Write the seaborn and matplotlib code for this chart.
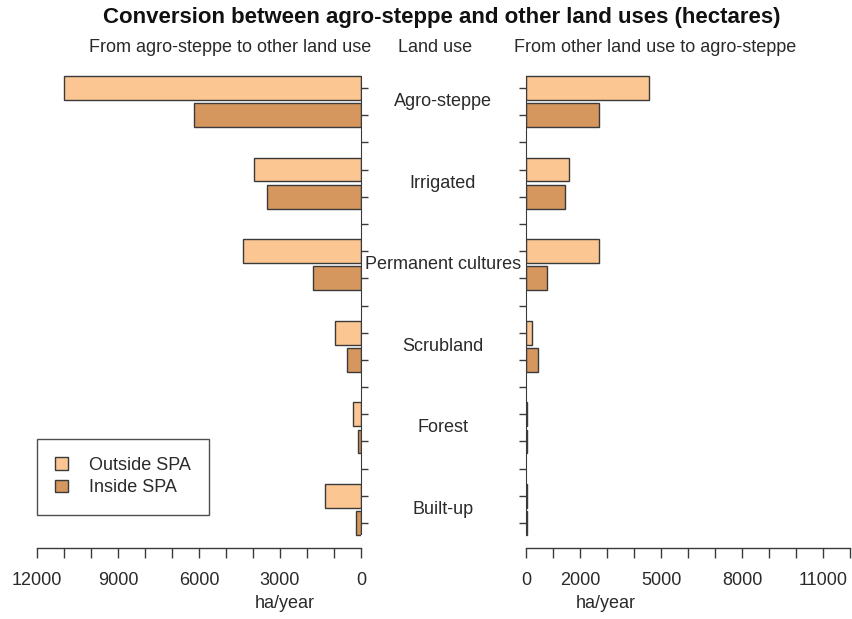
import numpy as np
import pandas as pd
import matplotlib
matplotlib.use("Agg")
import matplotlib.pyplot as plt
import matplotlib.transforms as mtransforms
from matplotlib.patches import Patch
from matplotlib.ticker import FixedLocator, FixedFormatter
import seaborn as sns

# ---- data (ha/year) ----
land_uses = ["Agro-steppe", "Irrigated", "Permanent cultures", "Scrubland", "Forest", "Built-up"]
zones = ["Outside SPA", "Inside SPA"]
from_steppe_outside = [11000, 3950, 4370, 960, 310, 1330]
from_steppe_inside = [6200, 3500, 1780, 520, 120, 200]
to_steppe_outside = [4560, 1580, 2690, 240, 30, 40]
to_steppe_inside = [2690, 1440, 770, 430, 20, 20]

left_tick_labels = ["12000", "9000", "6000", "3000", "0"]
left_tick_values = [12000, 9000, 6000, 3000, 0]
right_tick_labels = ["0", "2000", "5000", "8000", "11000"]
right_tick_values = [0, 2000, 5000, 8000, 11000]

light = "#FCC692"
dark = "#D5975D"
edge = "#3a3a3a"
text_col = "#2a2a2a"

def long_table(outside, inside):
    return pd.DataFrame({
        "land_use": land_uses * 2,
        "zone": [zones[0]] * len(land_uses) + [zones[1]] * len(land_uses),
        "ha": list(outside) + list(inside),
    })

df_from = long_table(from_steppe_outside, from_steppe_inside)
df_to = long_table(to_steppe_outside, to_steppe_inside)

sns.set_style("white")
plt.rcParams["font.family"] = ["Liberation Sans", "DejaVu Sans"]

W, H = 852, 619
fig = plt.figure(figsize=(W / 100, H / 100), dpi=100)

def frac_rect(x0, x1, ytop, ybot):
    return [x0 / W, 1 - ybot / H, (x1 - x0) / W, (ybot - ytop) / H]

ax_top_px, ax_bot_px = 74, 548
axL = fig.add_axes(frac_rect(37, 361, ax_top_px, ax_bot_px))
axR = fig.add_axes(frac_rect(526, 850, ax_top_px, ax_bot_px))

# category centre 0 at 101.5 px, one category = 81.6 px
px_per_cat = 81.6
y0_px = 101.5
ylim = ((ax_bot_px - y0_px) / px_per_cat, (ax_top_px - y0_px) / px_per_cat)

bar_kw = dict(y="land_use", x="ha", hue="zone", order=land_uses, hue_order=zones,
              palette=[light, dark], saturation=1, width=2 / 3, gap=0.12,
              edgecolor=edge, linewidth=1.0, legend=False, orient="h")

sns.barplot(data=df_from, ax=axL, **bar_kw)
sns.barplot(data=df_to, ax=axR, **bar_kw)

slot_ticks = [-1 / 6 + k / 3 for k in range(17)]
spine_lo, spine_hi = -0.313, 5.3

for ax, xlim, tvals, tlabs in [(axL, (12000, 0), left_tick_values, left_tick_labels),
                               (axR, (0, 12000), right_tick_values, right_tick_labels)]:
    ax.set_xlim(*xlim)
    ax.set_ylim(*ylim)
    ax.set_xlabel("")
    ax.set_ylabel("")
    for s in ax.spines.values():
        s.set_visible(False)
    ax.spines["bottom"].set_visible(True)
    ax.spines["bottom"].set_bounds(0, 12000)
    ax.spines["bottom"].set_color(edge)
    ax.spines["bottom"].set_linewidth(1.0)
    ticks = list(range(0, 12001, 1000))
    ax.xaxis.set_major_locator(FixedLocator(ticks))
    ax.xaxis.set_major_formatter(FixedFormatter(
        [tlabs[tvals.index(t)] if t in tvals else "" for t in ticks]))
    ax.tick_params(axis="x", direction="out", length=7.5, width=1.0, color=edge,
                   pad=10, labelsize=13, labelcolor=text_col, bottom=True)
    ax.yaxis.set_major_locator(FixedLocator(slot_ticks))
    ax.set_yticklabels([])
    ax.set_facecolor("white")
    ax.patch.set_alpha(0)

axL.spines["right"].set_visible(True)
axL.spines["right"].set_bounds(spine_lo, spine_hi)
axL.spines["right"].set_color(edge)
axL.yaxis.tick_right()
axL.tick_params(axis="y", direction="out", length=5, width=1.0, color=edge, right=True, left=False)

axR.spines["left"].set_visible(True)
axR.spines["left"].set_bounds(spine_lo, spine_hi)
axR.spines["left"].set_color(edge)
axR.yaxis.tick_left()
axR.tick_params(axis="y", direction="out", length=5, width=1.0, color=edge, left=True, right=False)

# land-use labels in the centre column
blend = mtransforms.blended_transform_factory(fig.transFigure, axL.transData)
for i, name in enumerate(land_uses):
    fig.text(443 / W, i, name, transform=blend, ha="center", va="center",
             fontsize=13, color=text_col)

# titles and headers
fig.text(442 / W, 1 - 18 / H, "Conversion between agro-steppe and other land uses (hectares)",
         ha="center", va="center", fontsize=16, fontweight="bold", color="#111111")
for xc, txt in [(230, "From agro-steppe to other land use"), (435, "Land use"),
                (655, "From other land use to agro-steppe")]:
    fig.text(xc / W, 1 - 48 / H, txt, ha="center", va="center", fontsize=13, color=text_col)

fig.text(285 / W, 1 - 604 / H, "ha/year", ha="center", va="center", fontsize=13, color=text_col)
fig.text(606 / W, 1 - 604 / H, "ha/year", ha="center", va="center", fontsize=13, color=text_col)

handles = [Patch(facecolor=light, edgecolor=edge, linewidth=1.0),
           Patch(facecolor=dark, edgecolor=edge, linewidth=1.0)]
leg = fig.legend(handles, zones, loc="upper left", bbox_to_anchor=(37 / W, 1 - 439 / H),
                 frameon=True, fancybox=False, edgecolor="#222222", fontsize=13,
                 handlelength=0.7, handleheight=0.7, handletextpad=1.2,
                 borderpad=1.0, labelspacing=0.3, borderaxespad=0)
leg.get_frame().set_linewidth(1.0)
for t in leg.get_texts():
    t.set_color(text_col)

fig.savefig("out.png", dpi=100, facecolor="white")
